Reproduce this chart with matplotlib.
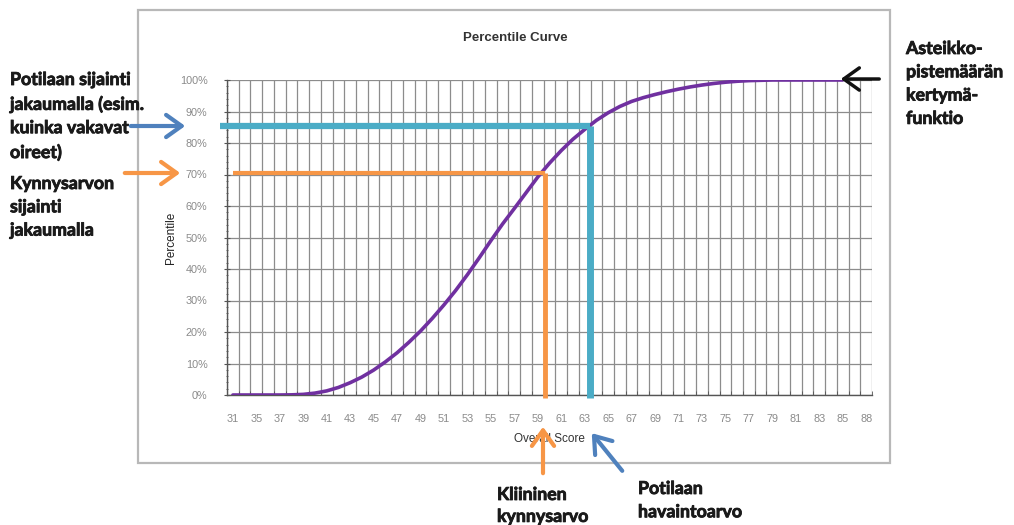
import matplotlib
matplotlib.use("Agg")
import matplotlib.pyplot as plt
from matplotlib.patches import Rectangle, FancyArrowPatch
from matplotlib.ticker import MultipleLocator, FixedLocator
import matplotlib.patheffects as pe

# ---- data -------------------------------------------------------------
score_labels = ["31", "35", "37", "39", "41", "43", "45", "47", "49", "51",
                "53", "55", "57", "59", "61", "63", "65", "67", "69", "71",
                "73", "75", "77", "79", "81", "83", "85", "88"]
n_categories = 55  # one grid column per score step; every other one is labelled

# cumulative percentile for each score step (percent)
percentile = [0, 0, 0, 0, 0, 0.05, 0.2, 0.6, 1.3, 2.4,
              3.9, 5.7, 7.9, 10.5, 13.4, 16.7, 20.3, 24.3, 28.6, 33.2,
              38.2, 43.5, 49.0, 54.3, 59.2, 64.2, 69.2, 73.6, 77.6, 81.2,
              84.3, 87.2, 89.6, 91.6, 93.2, 94.4, 95.4, 96.3, 97.1, 97.8,
              98.4, 98.9, 99.3, 99.6, 99.8, 99.9, 100, 100, 100, 100,
              100, 100, 100]

# clinical threshold and patient's observed score (category position, percentile)
threshold_pos, threshold_pct = 26.6, 70.5
patient_pos, patient_pct = 30.45, 85.5

# ---- figure -----------------------------------------------------------
W, H = 1014, 525
fig = plt.figure(figsize=(W / 100, H / 100), dpi=100)
fig.patch.set_facecolor("white")

def fx(px):
    return px / W

def fy(py):
    return 1 - py / H

# chart-area frame
fig.patches.append(Rectangle((fx(138), fy(463)), fx(890) - fx(138), fy(10) - fy(463),
                             transform=fig.transFigure, fill=False,
                             edgecolor="#b8b8b8", linewidth=1.6, zorder=0))

ax = fig.add_axes([fx(227), fy(395), fx(872) - fx(227), fy(80) - fy(395)])
sans = ["Liberation Sans", "DejaVu Sans"]
tick_font = dict(family=sans, size=7.8, color="#8a8a8a")

x = list(range(len(percentile)))
ax.plot(x, percentile, color="#7030a0", linewidth=2.6, solid_capstyle="round",
        solid_joinstyle="round", zorder=4)

ax.set_xlim(-0.5, n_categories - 0.5)
ax.set_ylim(0, 100)

# gridlines: one vertical line per category boundary, horizontal every 10 %
for k in range(n_categories + 1):
    ax.axvline(k - 0.5, color="#8c8c8c", linewidth=0.9, zorder=1)
for v in range(0, 101, 10):
    ax.axhline(v, color="#8c8c8c", linewidth=0.9, zorder=1)

ax.xaxis.set_major_locator(FixedLocator(list(range(0, n_categories, 2))))
ax.set_xticklabels(score_labels, **tick_font)
ax.xaxis.set_minor_locator(FixedLocator([k - 0.5 for k in range(n_categories + 1)]))
ax.set_yticks(range(0, 101, 10))
ax.set_yticklabels([f"{v}%" for v in range(0, 101, 10)], **tick_font)
ax.yaxis.set_minor_locator(MultipleLocator(2))

ax.tick_params(axis="x", which="major", length=0, pad=14)
ax.tick_params(axis="x", which="minor", length=3, direction="in", color="#555555")
ax.tick_params(axis="y", which="major", length=4, direction="inout", color="#555555", pad=12)
ax.tick_params(axis="y", which="minor", length=2, direction="inout", color="#555555")

for s in ("top", "right"):
    ax.spines[s].set_visible(False)
for s in ("left", "bottom"):
    ax.spines[s].set_color("#555555")
    ax.spines[s].set_linewidth(1.0)

ax.set_xlabel("Overall Score", family=sans, size=8.5, color="#333333", labelpad=6)
ax.set_ylabel("Percentile", family=sans, size=8.5, color="#222222", labelpad=2)
fig.text(fx(515), fy(38), "Percentile Curve", ha="center", va="center",
         family=sans, size=9.5, weight="bold", color="#333333")

# reading lines: threshold (orange) and patient (cyan)
ax.plot([0.0, threshold_pos], [threshold_pct, threshold_pct], color="#f79646",
        linewidth=3, zorder=5, clip_on=False, solid_capstyle="butt")
ax.plot([threshold_pos, threshold_pos], [-1, threshold_pct], color="#f79646",
        linewidth=3.5, zorder=5, clip_on=False, solid_capstyle="butt")
ax.plot([-1.1, patient_pos], [patient_pct, patient_pct], color="#4bacc6",
        linewidth=4.5, zorder=5, clip_on=False, solid_capstyle="butt")
ax.plot([patient_pos, patient_pos], [-1, patient_pct], color="#4bacc6",
        linewidth=5, zorder=5, clip_on=False, solid_capstyle="butt")

# ---- callout arrows ---------------------------------------------------
def arrow(x0, y0, x1, y1, color, lw=3):
    fig.add_artist(FancyArrowPatch(
        (fx(x0), fy(y0)), (fx(x1), fy(y1)), transform=fig.transFigure,
        arrowstyle="->,head_length=7,head_width=5", color=color,
        linewidth=lw, mutation_scale=1.6, zorder=10))

arrow(128, 126, 188, 126, "#4f81bd")
arrow(122, 173, 183, 173, "#f79646")
arrow(543, 476, 543, 424, "#f79646")
arrow(624, 473, 590, 431, "#4f81bd")
arrow(882, 79, 838, 79, "#111111", lw=2.5)

note_font = dict(family=["Lato", "DejaVu Sans"], size=12.8, weight="bold",
                 color="#1a1a1a", va="top", ha="left", linespacing=1.45,
                 path_effects=[pe.withStroke(linewidth=0.6, foreground="#1a1a1a")])
fig.text(fx(10), fy(71), "Potilaan sijainti\njakaumalla (esim.\nkuinka vakavat\noireet)",
         **note_font)
fig.text(fx(10), fy(175), "Kynnysarvon\nsijainti\njakaumalla", **note_font)
fig.text(fx(906), fy(40), "Asteikko-\npistemäärän\nkertymä-\nfunktio", **note_font)
fig.text(fx(497), fy(486), "Kliininen\nkynnysarvo", **{**note_font, "linespacing": 1.35})
fig.text(fx(638), fy(480), "Potilaan\nhavaintoarvo", **note_font)

fig.savefig("out.png", dpi=100, facecolor="white")
